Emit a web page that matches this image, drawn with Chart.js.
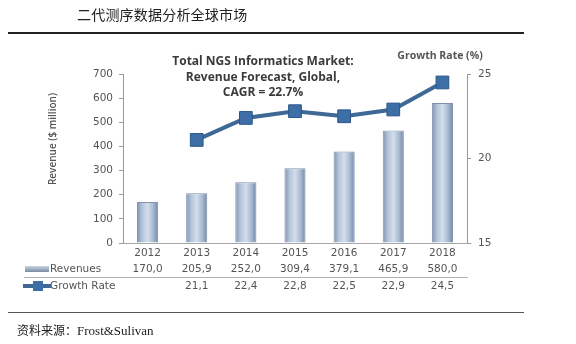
<!DOCTYPE html>
<html>
<head>
<meta charset="utf-8">
<script src="https://cdn.jsdelivr.net/npm/chart.js@4/dist/chart.umd.min.js"></script>
<style>
    body { margin: 0; background: #fff; }
    #lienzo { position: relative; width: 576px; height: 344px; overflow: hidden; }
    #grafico { position: absolute; left: 0; top: 0; }
    .cabecera { position: absolute; left: 77px; top: 4px; font: 14px "Noto Sans CJK SC"; color: #222; letter-spacing: 0.2px; }
    .linea { position: absolute; left: 8px; width: 516px; background: #222; }
    .pie { position: absolute; left: 17px; top: 321px; font: 12px "Noto Sans CJK SC"; color: #222; }
    .pie span { font: 13px "Liberation Serif"; }
</style>
</head>
<body>
<div id="lienzo">
    <canvas id="grafico" width="576" height="344"></canvas>
    <div class="cabecera">二代测序数据分析全球市场</div>
    <div class="linea" style="top:32px;height:2px"></div>
    <div class="linea" style="top:312px;height:1px;background:#555"></div>
    <div class="pie">资料来源：<span>Frost&amp;Sulivan</span></div>
</div>
<script>
// Datos del gráfico
const anios = ['2012', '2013', '2014', '2015', '2016', '2017', '2018'];
const ingresos = [170.0, 205.9, 252.0, 309.4, 379.1, 465.9, 580.0]; // $ millones
const crecimiento = [null, 21.1, 22.4, 22.8, 22.5, 22.9, 24.5]; // %
const tituloLineas = ['Total NGS Informatics Market:', 'Revenue Forecast, Global,', 'CAGR = 22.7%'];

const fuenteNum = '"DejaVu Sans"';
const fuenteTit = '"Open Sans"';

// degradado horizontal para cada barra (efecto cilindro)
function colorBarra(context) {
    const chart = context.chart;
    const escala = chart.scales.x;
    if (!escala || context.dataIndex === undefined) return '#b5c5da';
    const x = escala.getPixelForValue(context.dataIndex);
    if (!Number.isFinite(x)) return '#b5c5da';
    const g = chart.ctx.createLinearGradient(x - 11, 0, x + 11, 0);
    g.addColorStop(0, '#7a8eac');
    g.addColorStop(0.25, '#b4c4d9');
    g.addColorStop(0.5, '#d3deec');
    g.addColorStop(0.75, '#a9bbd2');
    g.addColorStop(1, '#6e82a0');
    return g;
}

// Textos y tabla de datos bajo el eje
const tablaDatos = {
    id: 'tablaDatos',
    afterDraw(chart) {
        const ctx = chart.ctx;
        const ejeX = chart.scales.x;
        ctx.save();
        ctx.textAlign = 'center';
        ctx.textBaseline = 'middle';

        // título
        ctx.fillStyle = '#3a3a3a';
        ctx.font = 'bold 12px ' + fuenteTit;
        tituloLineas.forEach((t, i) => ctx.fillText(t, 263, 62 + i * 15.5));

        // título eje derecho
        ctx.fillStyle = '#555';
        ctx.font = 'bold 10.5px ' + fuenteTit;
        ctx.fillText('Growth Rate (%)', 440, 56);

        // título eje izquierdo
        ctx.save();
        ctx.translate(53, 139);
        ctx.rotate(-Math.PI / 2);
        ctx.font = '600 10px ' + fuenteTit;
        ctx.fillText('Revenue ($ million)', 0, 0);
        ctx.restore();

        // filas de la tabla
        ctx.font = '10.5px ' + fuenteNum;
        ctx.fillStyle = '#555';
        anios.forEach((a, i) => {
            const x = ejeX.getPixelForValue(i);
            ctx.fillText(ingresos[i].toFixed(1).replace('.', ','), x, 269);
            if (crecimiento[i] !== null) {
                ctx.fillText(crecimiento[i].toFixed(1).replace('.', ','), x, 286);
            }
        });
        ctx.textAlign = 'left';
        ctx.fillText('Revenues', 50, 269);
        ctx.fillText('Growth Rate', 50, 286);

        // separador
        ctx.strokeStyle = '#b0b0b0';
        ctx.lineWidth = 1;
        ctx.beginPath();
        ctx.moveTo(24, 277.5);
        ctx.lineTo(468, 277.5);
        ctx.stroke();

        // icono de barras
        const g = ctx.createLinearGradient(0, 266, 0, 273);
        g.addColorStop(0, '#c9d5e4');
        g.addColorStop(1, '#6f7f99');
        ctx.fillStyle = g;
        ctx.fillRect(25, 266, 24, 6);

        // icono de línea
        ctx.strokeStyle = '#3e6996';
        ctx.lineWidth = 4;
        ctx.beginPath();
        ctx.moveTo(23, 286);
        ctx.lineTo(51, 286);
        ctx.stroke();
        ctx.fillStyle = '#3d6ea6';
        ctx.fillRect(33, 281, 10, 10);
        ctx.restore();
    }
};

new Chart(document.getElementById('grafico'), {
    data: {
        labels: anios,
        datasets: [{
            type: 'line',
            label: 'Growth Rate',
            data: crecimiento,
            yAxisID: 'y1',
            order: 0,
            borderColor: '#3e6996',
            borderWidth: 4,
            pointStyle: 'rect',
            pointRadius: 9,
            pointBackgroundColor: '#3d6ea6',
            pointBorderColor: '#2b5687',
            pointBorderWidth: 1
        }, {
            type: 'bar',
            label: 'Revenues',
            data: ingresos,
            yAxisID: 'y',
            order: 1,
            backgroundColor: colorBarra,
            borderColor: '#8092ad',
            borderWidth: { left: 1, right: 1, top: 1, bottom: 0 },
            categoryPercentage: 1,
            barPercentage: 0.43
        }]
    },
    options: {
        responsive: false,
        animation: false,
        layout: { padding: { left: 0, right: 0, top: 74, bottom: 0 } },
        plugins: {
            legend: { display: false },
            tooltip: { enabled: false }
        },
        scales: {
            x: {
                afterFit: (s) => { s.height = 101; },
                grid: { display: false, drawTicks: false },
                border: { color: '#a8a8a8' },
                ticks: { color: '#555', font: { family: 'DejaVu Sans', size: 10.5 }, padding: 4 }
            },
            y: {
                position: 'left',
                min: 0,
                max: 700,
                afterFit: (s) => { s.width = 123; },
                grid: { drawOnChartArea: false, tickLength: 4, color: '#999' },
                border: { color: '#999' },
                ticks: { stepSize: 100, color: '#555', font: { family: 'DejaVu Sans', size: 10.5 }, padding: 6 }
            },
            y1: {
                position: 'right',
                min: 15,
                max: 25,
                afterFit: (s) => { s.width = 109; },
                grid: { drawOnChartArea: false, tickLength: 4, color: '#999' },
                border: { color: '#999' },
                ticks: { stepSize: 5, color: '#555', font: { family: 'DejaVu Sans', size: 10.5 }, padding: 7 }
            }
        }
    },
    plugins: [tablaDatos]
});
</script>
</body>
</html>
